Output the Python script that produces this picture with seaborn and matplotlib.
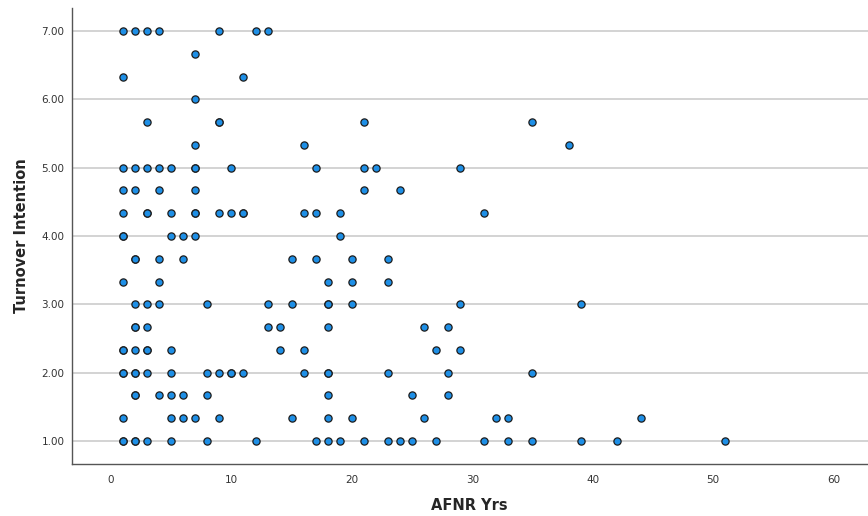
import matplotlib
matplotlib.use("Agg")
import matplotlib.pyplot as plt
import seaborn as sns
import pandas as pd
import matplotlib.ticker as ticker

# Turnover intention levels (scale means, steps of 1/3) and AFNR years at each level
levels = [7.00, 6.67, 6.33, 6.00, 5.67, 5.33, 5.00, 4.67, 4.33, 4.00,
          3.67, 3.33, 3.00, 2.67, 2.33, 2.00, 1.67, 1.33, 1.00]

yrs_700 = [1, 2, 3, 4, 9, 12, 13]
yrs_667 = [7]
yrs_633 = [1, 11]
yrs_600 = [7]
yrs_567 = [3, 9, 9, 21, 35]
yrs_533 = [7, 16, 38]
yrs_500 = [1, 2, 3, 4, 5, 7, 7, 10, 17, 21, 22, 29]
yrs_467 = [1, 2, 4, 7, 21, 24]
yrs_433 = [1, 3, 3, 5, 7, 7, 9, 10, 11, 11, 16, 17, 19, 31]
yrs_400 = [1, 1, 5, 6, 7, 19]
yrs_367 = [2, 2, 4, 6, 15, 17, 20, 23]
yrs_333 = [1, 4, 18, 20, 23]
yrs_300 = [2, 3, 4, 8, 13, 15, 18, 18, 20, 29, 39]
yrs_267 = [2, 2, 3, 13, 14, 18, 26, 28]
yrs_233 = [1, 1, 2, 3, 3, 5, 14, 16, 27, 29]
yrs_200 = [1, 1, 2, 2, 3, 5, 8, 9, 10, 10, 11, 16, 18, 18, 23, 28, 35]
yrs_167 = [2, 2, 4, 5, 6, 8, 18, 25, 28]
yrs_133 = [1, 5, 6, 7, 9, 15, 18, 20, 26, 32, 33, 44]
yrs_100 = [1, 1, 2, 2, 3, 5, 8, 12, 17, 18, 19, 21, 23, 24, 25, 27, 31, 33,
           35, 39, 42, 51]

yrs_lists = [yrs_700, yrs_667, yrs_633, yrs_600, yrs_567, yrs_533, yrs_500,
             yrs_467, yrs_433, yrs_400, yrs_367, yrs_333, yrs_300, yrs_267,
             yrs_233, yrs_200, yrs_167, yrs_133, yrs_100]

x_ticks = [0, 10, 20, 30, 40, 50, 60]
y_ticks = [1, 2, 3, 4, 5, 6, 7]

# build table
afnr = []
turnover = []
for lvl, yrs in zip(levels, yrs_lists):
    afnr += yrs
    turnover += [lvl] * len(yrs)
df = pd.DataFrame({"AFNR Yrs": afnr, "Turnover Intention": turnover})

sns.set_style("white")
plt.rcParams['font.family'] = ['DejaVu Sans']

fig = plt.figure(figsize=(8.68, 5.16), dpi=100)
ax = fig.add_axes([0.0824, 0.1008, 0.9176, 0.8837])

ax.set_axisbelow(True)
for yt in y_ticks:
    ax.axhline(yt, color="#d0d0d0", linewidth=1.3, zorder=0)

sns.scatterplot(data=df, x="AFNR Yrs", y="Turnover Intention", ax=ax,
                color="#1e8fe6", edgecolor="#1c1c1c", linewidth=0.9,
                s=27, zorder=3, legend=False)

ax.set_xlim(-3.28, 62.87)
ax.set_ylim(0.663, 7.337)
ax.set_xticks(x_ticks)
ax.set_yticks(y_ticks)
ax.yaxis.set_major_formatter(ticker.FormatStrFormatter("%.2f"))
ax.tick_params(axis="x", length=0, labelsize=7.5, colors="#333333", pad=8)
ax.tick_params(axis="y", length=0, labelsize=7.5, colors="#333333", pad=5)

for side in ["top", "right"]:
    ax.spines[side].set_visible(False)
for side in ["left", "bottom"]:
    ax.spines[side].set_color("#555555")
    ax.spines[side].set_linewidth(1.0)

ax.set_xlabel("AFNR Yrs", fontsize=10.5, fontweight="bold", labelpad=9)
ax.set_ylabel("Turnover Intention", fontsize=10.5, fontweight="bold", labelpad=9)

plt.savefig("out.png", dpi=100)
